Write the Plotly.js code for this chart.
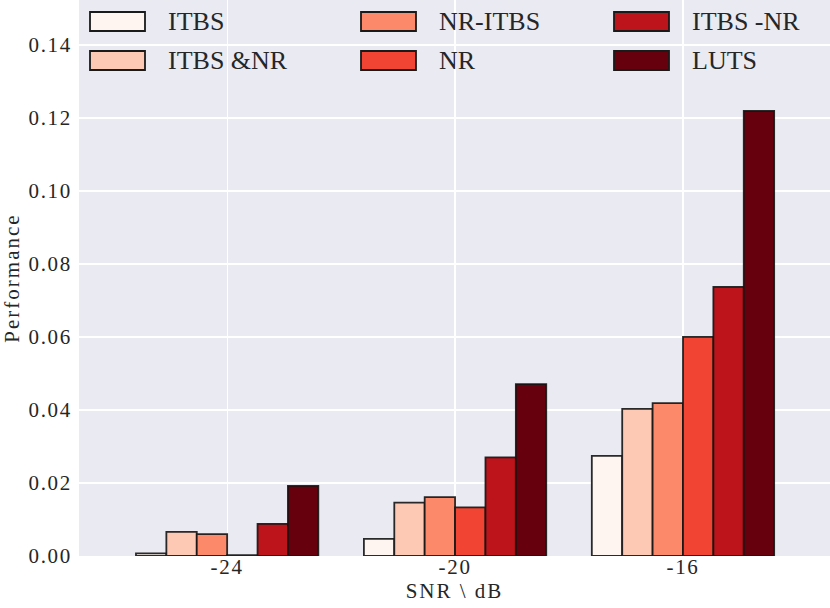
<!DOCTYPE html>
<html>
<head>
<meta charset="utf-8">
<script src="https://cdn.plot.ly/plotly-3.0.1.min.js"></script>
<style>
  body { margin: 0; background: #fff; }
  #plot { width: 830px; height: 608px; }
  .ytitle { letter-spacing: 2px; }
  .xtitle { letter-spacing: 2px; }
  .ytick text, .xtick text { letter-spacing: 1.7px; }
</style>
</head>
<body>
<div id="plot"></div>
<script>
// SNR groups on the x axis
const snr = ['-24', '-20', '-16']

// one series per method, in bar order
const methods = ['ITBS', 'ITBS &NR', 'NR-ITBS', 'NR', 'ITBS -NR', 'LUTS']
const colors = ['#fff5f0', '#fdc9b4', '#fc8a6a', '#f14432', '#bc141a', '#67000d']

const itbs = [0.0007, 0.0047, 0.0274]
const itbs_nr = [0.0066, 0.0146, 0.0403]
const nr_itbs = [0.0060, 0.0161, 0.0419]
const nr = [0.0002, 0.0133, 0.0600]
const itbs_minus_nr = [0.0088, 0.0270, 0.0737]
const luts = [0.0192, 0.0471, 0.1219]

const values = [itbs, itbs_nr, nr_itbs, nr, itbs_minus_nr, luts]

const font = "'Liberation Serif', 'Times New Roman', serif"
const ink = '#262626'

let data = []
for (let [i, name] of methods.entries()) {
  data.push({
    type : 'bar',
    name : name,
    x : snr,
    y : values[i],
    marker : {color : colors[i], line : {color : 'rgba(20,20,20,0.9)', width : 1.8}},
    showlegend : false
  })
}

// legend drawn as wide swatches like the original, laid out column-wise
const W = 751, H = 556
const col_x = [90, 361, 614]
const row_y = [12, 51]
let shapes = []
let annotations = []
for (let [i, name] of methods.entries()) {
  let col = Math.floor(i / 2), row = i % 2
  let x0 = col_x[col], y0 = row_y[row]
  shapes.push({
    type : 'rect', xref : 'paper', yref : 'paper',
    x0 : (x0 - 79) / W, x1 : (x0 + 55 - 79) / W,
    y0 : 1 - y0 / H, y1 : 1 - (y0 + 19) / H,
    fillcolor : colors[i], line : {color : '#1a1a1a', width : 1.8}
  })
  annotations.push({
    xref : 'paper', yref : 'paper', showarrow : false,
    x : (x0 + 76 - 79) / W, y : 1 - (y0 + 10) / H,
    xanchor : 'left', yanchor : 'middle',
    text : name, font : {family : font, size : 26, color : ink}
  })
}

let layout = {
  width : 830, height : 608,
  margin : {l : 79, r : 0, t : 0, b : 52},
  paper_bgcolor : '#ffffff',
  plot_bgcolor : '#eaeaf2',
  barmode : 'group',
  bargap : 0.2,
  bargroupgap : 0,
  font : {family : font, color : ink},
  xaxis : {
    type : 'category',
    range : [-0.65, 2.645],
    showgrid : true, gridcolor : '#ffffff', gridwidth : 1.3,
    zeroline : false, showline : false, ticks : '',
    tickfont : {family : font, size : 21, color : ink},
    ticklabelstandoff : -4,
    title : {text : 'SNR \\ dB', font : {family : font, size : 21, color : ink}, standoff : 4}
  },
  yaxis : {
    range : [0, 0.1523],
    dtick : 0.02, tickformat : '.2f',
    showgrid : true, gridcolor : '#ffffff', gridwidth : 1.3,
    zeroline : false, showline : false, ticks : '',
    tickfont : {family : font, size : 21, color : ink},
    ticklabelstandoff : 6,
    title : {text : 'Performance', font : {family : font, size : 21, color : ink}, standoff : 11}
  },
  shapes : shapes,
  annotations : annotations
}

Plotly.newPlot('plot', data, layout, {displayModeBar : false, staticPlot : true})
</script>
</body>
</html>
